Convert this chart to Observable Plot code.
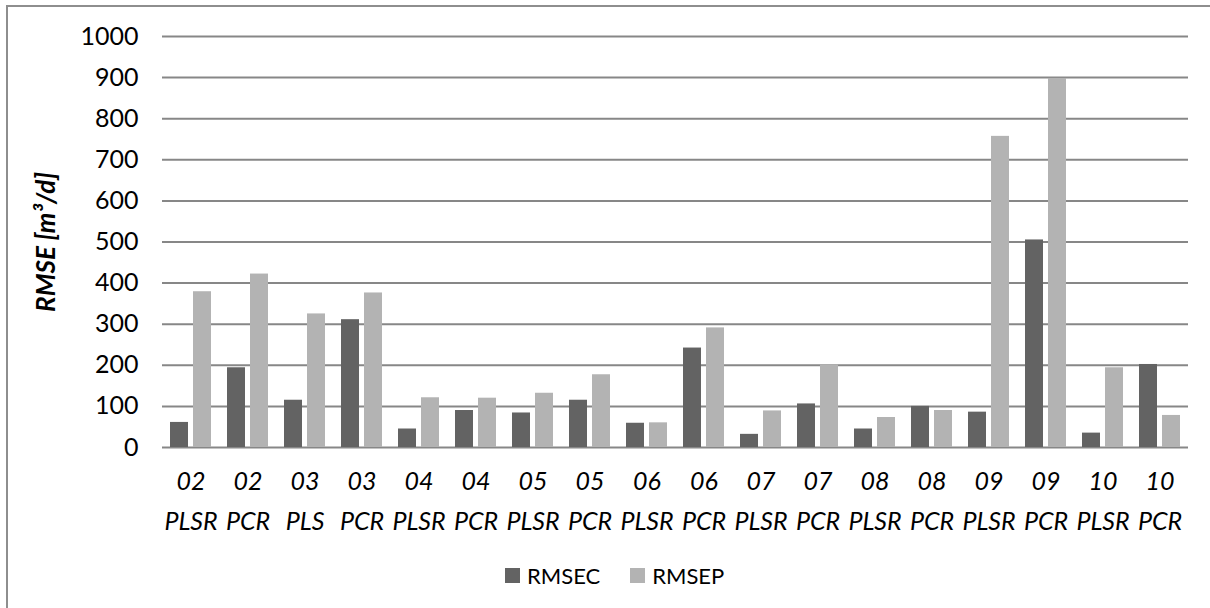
<!DOCTYPE html>
<html>
<head>
<meta charset="utf-8">
<script src="https://cdn.jsdelivr.net/npm/d3@7"></script>
<script src="https://cdn.jsdelivr.net/npm/@observablehq/plot@0.6"></script>
<style>
  html, body { margin: 0; padding: 0; background: #fff; }
  body { width: 1210px; height: 608px; overflow: hidden; position: relative; font-family: Lato, "Open Sans", sans-serif; }
  #frame { position: absolute; left: 6px; top: 5px; width: 1300px; height: 700px;
           border-left: 2px solid #8e8e8e; border-top: 2px solid #8e8e8e; box-sizing: border-box; }
  #chart { position: absolute; left: 0; top: 0; }
  #chart svg { font-family: Lato, "Open Sans", sans-serif; }
  g[aria-label="y-axis label"] text { font-weight: bold; font-style: italic; font-size: 26px; }
  #legend { position: absolute; left: 505px; top: 562px; display: flex; align-items: center;
            font-family: Lato, "Open Sans", sans-serif; font-size: 22px; color: #000; }
  #legend .item { display: flex; align-items: center; margin-right: 30px; }
  #legend .sw { width: 15px; height: 15px; margin-right: 7px; }
</style>
</head>
<body>
<div id="frame"></div>
<div id="chart"></div>
<div id="legend"></div>
<script>
// ---- data ----
const ids = ["02","02","03","03","04","04","05","05","06","06","07","07","08","08","09","09","10","10"];
const methods = ["PLSR","PCR","PLS","PCR","PLSR","PCR","PLSR","PCR","PLSR","PCR","PLSR","PCR","PLSR","PCR","PLSR","PCR","PLSR","PCR"];
const rmsec = [61, 194, 115, 311, 45, 90, 84, 115, 59, 242, 32, 106, 45, 100, 86, 505, 35, 202];
const rmsep = [379, 422, 325, 376, 121, 120, 132, 177, 60, 291, 89, 201, 73, 90, 757, 898, 194, 78];
const seriesNames = ["RMSEC", "RMSEP"];
const seriesColors = ["#636363", "#b3b3b3"];
const yTicks = [0, 100, 200, 300, 400, 500, 600, 700, 800, 900, 1000];
const yLabel = "RMSE [m³/d]";

// ---- build table ----
const categories = ids.map((id, i) => `${id}\n${methods[i]}`);
const rows = [];
categories.forEach((c, i) => {
  rows.push({cat: c, series: seriesNames[0], value: rmsec[i]});
  rows.push({cat: c, series: seriesNames[1], value: rmsep[i]});
});

const chart = Plot.plot({
  width: 1210,
  height: 548,
  marginTop: 36,
  marginLeft: 161,
  marginRight: 22,
  marginBottom: 101,
  style: {fontSize: "25px", color: "#000", background: "transparent"},
  fx: {domain: categories, padding: 0},
  x: {domain: seriesNames, paddingInner: 0.23, paddingOuter: 0.32, axis: null},
  y: {domain: [0, 1000]},
  color: {domain: seriesNames, range: seriesColors},
  marks: [
    Plot.gridY(yTicks, {stroke: "#878787", strokeOpacity: 1, strokeWidth: 2}),
    Plot.barY(rows, {fx: "cat", x: "series", y: "value", fill: "series"}),
    Plot.axisY(yTicks, {tickSize: 0, tickPadding: 24, tickFormat: d => String(d), label: yLabel,
                        labelAnchor: "center", labelOffset: 126, labelArrow: "none", fontSize: 25}),
    Plot.axisFx({anchor: "bottom", tickSize: 0, tickPadding: 14, label: null,
                 fontStyle: "italic", lineHeight: 1.6, fontSize: 25})
  ]
});
document.getElementById("chart").appendChild(chart);

// ---- legend ----
const legend = document.getElementById("legend");
seriesNames.forEach((name, i) => {
  const item = document.createElement("div");
  item.className = "item";
  const sw = document.createElement("div");
  sw.className = "sw";
  sw.style.background = seriesColors[i];
  const label = document.createElement("span");
  label.textContent = name;
  item.appendChild(sw);
  item.appendChild(label);
  legend.appendChild(item);
});
</script>
</body>
</html>
